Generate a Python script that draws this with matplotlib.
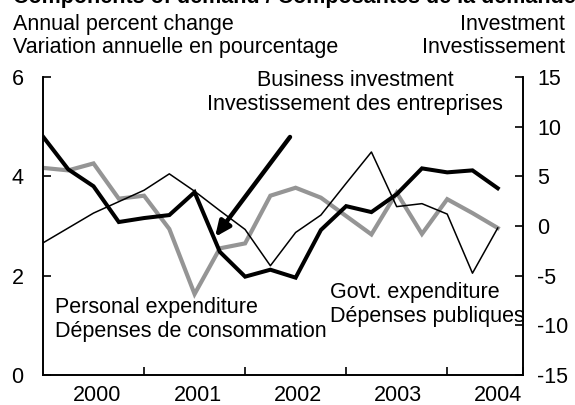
import matplotlib
matplotlib.use("Agg")
import matplotlib.pyplot as plt
import numpy as np

plt.rcParams['font.family'] = ['Liberation Sans', 'DejaVu Sans']
plt.rcParams['axes.unicode_minus'] = False

# Quarterly data 2000Q1 - 2004Q3
quarters = ["2000Q1", "2000Q2", "2000Q3", "2000Q4",
            "2001Q1", "2001Q2", "2001Q3", "2001Q4",
            "2002Q1", "2002Q2", "2002Q3", "2002Q4",
            "2003Q1", "2003Q2", "2003Q3", "2003Q4",
            "2004Q1", "2004Q2", "2004Q3"]
year_labels = ["2000", "2001", "2002", "2003", "2004"]

# Left axis: annual percent change
personal_exp = [4.17, 4.12, 4.26, 3.55, 3.61, 2.94, 1.63, 2.55, 2.65, 3.61,
                3.77, 3.57, 3.20, 2.83, 3.67, 2.84, 3.54, 3.26, 2.96]
govt_exp = [2.66, 2.96, 3.26, 3.49, 3.72, 4.05, 3.70, 3.31, 2.93, 2.20,
            2.87, 3.22, 3.86, 4.49, 3.39, 3.45, 3.24, 2.05, 2.96]
# Right axis: investment
business_inv = [9.0, 5.7, 4.0, 0.4, 0.8, 1.1, 3.4, -2.6, -5.1, -4.4,
                -5.2, -0.4, 2.0, 1.4, 3.2, 5.8, 5.4, 5.6, 3.8]

W, H = 575, 405
fig = plt.figure(figsize=(W / 100, H / 100), dpi=100)

def fx(px):
    return px / W

def fy(py):
    return 1 - py / H

L, R, T, B = 43, 523, 77, 375
ax = fig.add_axes([fx(L), fy(B), fx(R) - fx(L), fy(T) - fy(B)])
ax2 = ax.twinx()

x = np.arange(len(quarters))
gray = '#959595'
FS = 15.5

ax.plot(x, personal_exp, color=gray, lw=3.0, solid_joinstyle='miter', zorder=2)
ax.plot(x, govt_exp, color='black', lw=1.1, zorder=3)
ax2.plot(x, business_inv, color='black', lw=2.9, solid_joinstyle='miter', zorder=4)

ax.set_xlim(0, len(quarters))
ax.set_ylim(0, 6)
ax.set_yticks([0, 2, 4, 6])
ax2.set_ylim(-15, 15)
ax2.set_yticks(np.arange(-15, 16, 5))

for a in (ax, ax2):
    a.spines['top'].set_visible(False)
    for s in a.spines.values():
        s.set_linewidth(1.2)

ax.tick_params(axis='y', direction='in', length=6, width=1.2, labelsize=FS, pad=14)
ax2.tick_params(axis='y', direction='in', length=6, width=1.2, labelsize=FS, pad=10)

# x axis: ticks at year boundaries, labels centred in each year
year_bounds = [4, 8, 12, 16, len(quarters)]
ax.set_xticks(year_bounds)
ax.set_xticklabels([])
ax.tick_params(axis='x', which='major', direction='in', length=6, width=1.2)
ax.set_xticks([2.15, 6.12, 10.08, 14.04, 18.0], minor=True)
ax.set_xticklabels(year_labels, minor=True)
ax.tick_params(axis='x', which='minor', length=0, labelsize=FS, pad=7)
ax2.tick_params(axis='x', which='both', length=0)

# Texts
fig.text(fx(13), fy(30), "Annual percent change", fontsize=FS, va='baseline', ha='left')
fig.text(fx(13), fy(53), "Variation annuelle en pourcentage", fontsize=FS, va='baseline', ha='left')
fig.text(fx(565), fy(30), "Investment", fontsize=FS, va='baseline', ha='right')
fig.text(fx(565), fy(53), "Investissement", fontsize=FS, va='baseline', ha='right')
fig.text(fx(13), fy(2.5), "Components of demand / Composantes de la demande",
         fontsize=15.5, fontweight='bold', va='baseline', ha='left')

fig.text(fx(355), fy(86), "Business investment", fontsize=FS, va='baseline', ha='center')
fig.text(fx(355), fy(110), "Investissement des entreprises", fontsize=FS, va='baseline', ha='center')
fig.text(fx(55), fy(313), "Personal expenditure", fontsize=FS, va='baseline', ha='left')
fig.text(fx(55), fy(337), "Dépenses de consommation", fontsize=FS, va='baseline', ha='left')
fig.text(fx(330), fy(298), "Govt. expenditure", fontsize=FS, va='baseline', ha='left')
fig.text(fx(330), fy(322), "Dépenses publiques", fontsize=FS, va='baseline', ha='left')

# Arrow pointing to business investment line
ax2.annotate("", xy=(fx(215), fy(237)), xycoords='figure fraction',
             xytext=(fx(290), fy(137)), textcoords='figure fraction',
             arrowprops=dict(arrowstyle='-|>,head_length=0.9,head_width=0.4',
                             lw=3.2, color='black', shrinkA=0, shrinkB=0),
             zorder=6)

fig.savefig("out.png", dpi=100)
